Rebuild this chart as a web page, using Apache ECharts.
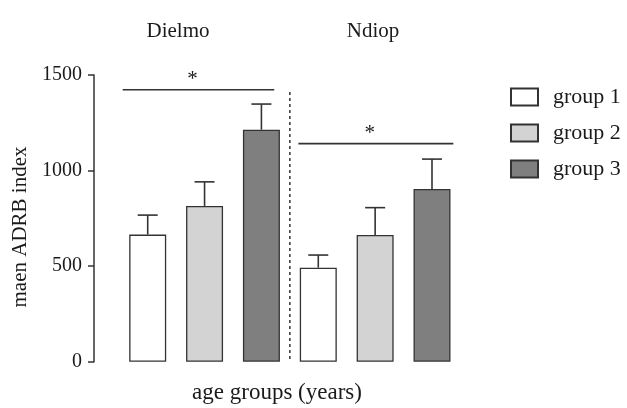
<!DOCTYPE html>
<html>
<head>
<meta charset="utf-8">
<script src="https://cdn.jsdelivr.net/npm/echarts@6/dist/echarts.min.js"></script>
<style>html,body{margin:0;padding:0;background:#fff}#c{width:627px;height:408px}</style>
</head>
<body>
<div id="c"></div>
<script>
// ---- data ----
var sites = ['Dielmo', 'Ndiop'];
var groups = ['group 1', 'group 2', 'group 3'];
var dielmoMeans = [665, 815, 1214];
var dielmoUpper = [767, 941, 1348];
var ndiopMeans = [492, 663, 904];
var ndiopUpper = [558, 806, 1060];
var yTicks = [0, 500, 1000, 1500];
// significance brackets (category-scale positions) and levels
var sigFrom = [-0.44, 2.65];
var sigTo = [2.225, 5.375];
var sigLevel = [1423, 1141];
var sigMark = ['*', '*'];
var dividerTop = 1411;

var FONT = "'Liberation Serif','Times New Roman',serif";
var INK = '#333333';
var TXT = '#1a1a1a';
var fills = ['#ffffff', '#d3d3d3', '#7f7f7f'];

var cats = [];
sites.forEach(function (s) { groups.forEach(function (g) { cats.push(s + ' ' + g); }); });
var allMeans = dielmoMeans.concat(ndiopMeans);
var allUpper = dielmoUpper.concat(ndiopUpper);

var barSeries = groups.map(function (g, gi) {
  var d = cats.map(function (c, ci) { return (ci % 3 === gi) ? allMeans[ci] : '-'; });
  return {
    name: g, type: 'bar', data: d, barWidth: 37, barGap: '-100%',
    itemStyle: { color: fills[gi], borderColor: INK, borderWidth: 1.3 },
    emphasis: { disabled: true }, z: 2
  };
});

var errData = cats.map(function (c, i) { return [i, allMeans[i], allUpper[i]]; });

var errSeries = {
  type: 'custom', name: 'err', data: errData, z: 3, silent: true,
  encode: { x: 0, y: [1, 2] },
  renderItem: function (params, api) {
    var i = api.value(0);
    var p0 = api.coord([i, api.value(1)]);
    var p1 = api.coord([i, api.value(2)]);
    var st = { stroke: INK, lineWidth: 1.6 };
    return { type: 'group', children: [
      { type: 'line', shape: { x1: p0[0], y1: p0[1], x2: p1[0], y2: p1[1] }, style: st },
      { type: 'line', shape: { x1: p1[0] - 10, y1: p1[1], x2: p1[0] + 10, y2: p1[1] }, style: st }
    ]};
  }
};

var sigData = sigLevel.map(function (v, i) { return [sigFrom[i], sigTo[i], v]; });
var sigSeries = {
  type: 'custom', name: 'sig', data: sigData, z: 3, silent: true,
  encode: { y: 2 },
  renderItem: function (params, api) {
    var idx = params.dataIndex;
    var band = api.size([1, 0])[0];
    var a = api.value(0), b = api.value(1), v = api.value(2);
    var base = api.coord([0, v]);
    var x1 = base[0] + a * band, x2 = base[0] + b * band;
    var y = base[1];
    return { type: 'group', children: [
      { type: 'line', shape: { x1: x1, y1: y, x2: x2, y2: y }, style: { stroke: INK, lineWidth: 1.6 } },
      { type: 'text', x: (x1 + x2) / 2 - 6, y: y - 10,
        style: { text: sigMark[idx], fontSize: 21, fontFamily: FONT, fill: TXT, align: 'center', verticalAlign: 'middle' } }
    ]};
  }
};

var divSeries = {
  type: 'custom', name: 'divider', data: [[2.5, 0, dividerTop]], z: 3, silent: true,
  encode: { y: [1, 2] },
  renderItem: function (params, api) {
    var band = api.size([1, 0])[0];
    var pb = api.coord([2, api.value(1)]);
    var pt = api.coord([2, api.value(2)]);
    var x = pb[0] + (api.value(0) - 2) * band;
    return { type: 'line', shape: { x1: x, y1: pt[1], x2: x, y2: pb[1] },
      style: { stroke: INK, lineWidth: 1.5, lineDash: [3, 3] } };
  }
};

var chart = echarts.init(document.getElementById('c'), null, { renderer: 'canvas' });
chart.setOption({
  animation: false,
  backgroundColor: '#ffffff',
  grid: { left: 119.27, width: 341.16, top: 75, bottom: 46.3 },
  xAxis: { type: 'category', data: cats, show: false, boundaryGap: true },
  yAxis: {
    type: 'value', min: yTicks[0], max: yTicks[yTicks.length - 1], interval: yTicks[1] - yTicks[0],
    offset: 25.27,
    axisLine: { show: true, lineStyle: { color: INK, width: 1.5 } },
    axisTick: { show: true, length: 6, lineStyle: { color: INK, width: 1.5 } },
    axisLabel: { color: TXT, fontSize: 20, fontFamily: FONT, margin: 12, formatter: function (v) { return String(v); } },
    splitLine: { show: false }
  },
  legend: {
    data: groups, orient: 'vertical', left: 510, top: 86, padding: 0,
    itemWidth: 27, itemHeight: 17, itemGap: 14, icon: 'rect',
    textStyle: { fontSize: 22, fontFamily: FONT, color: TXT, padding: [0, 0, 0, 10] },
    selectedMode: false
  },
  graphic: [
    { type: 'text', x: 178, y: 31, style: { text: sites[0], fontSize: 21, fontFamily: FONT, fill: TXT, align: 'center', verticalAlign: 'middle' } },
    { type: 'text', x: 373, y: 31, style: { text: sites[1], fontSize: 21, fontFamily: FONT, fill: TXT, align: 'center', verticalAlign: 'middle' } },
    { type: 'text', x: 277, y: 393, style: { text: 'age groups (years)', fontSize: 23, fontFamily: FONT, fill: TXT, align: 'center', verticalAlign: 'middle' } },
    { type: 'text', x: 20, y: 227, rotation: Math.PI / 2, style: { text: 'maen ADRB index', fontSize: 21, fontFamily: FONT, fill: TXT, align: 'center', verticalAlign: 'middle' } }
  ],
  series: barSeries.concat([errSeries, sigSeries, divSeries])
});
</script>
</body>
</html>
